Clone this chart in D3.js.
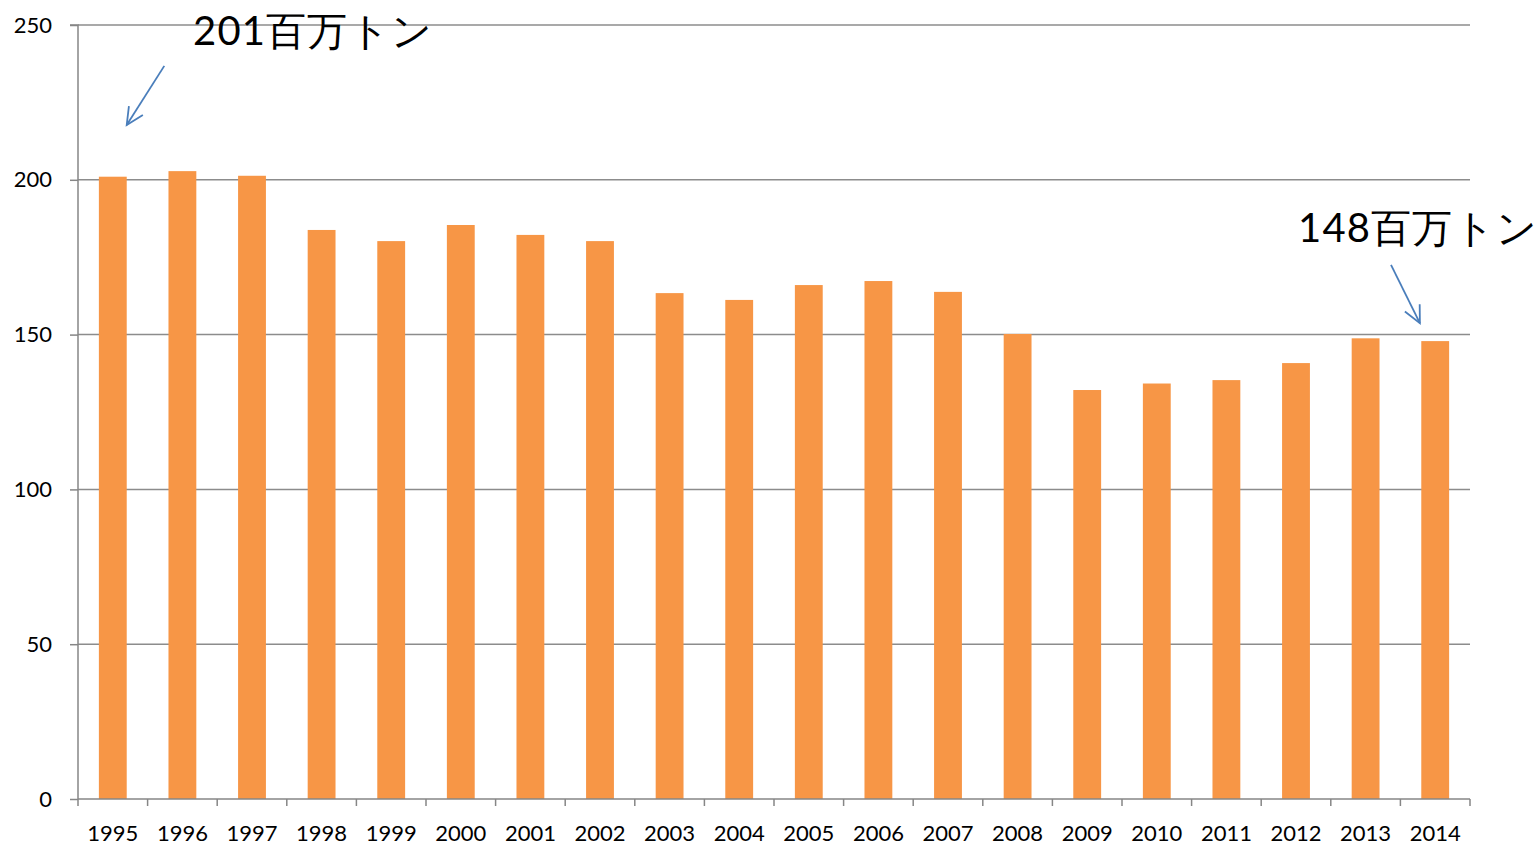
<!DOCTYPE html>
<html><head><meta charset="utf-8">
<script src="https://cdn.jsdelivr.net/npm/d3@7/dist/d3.min.js"></script>
<style>
body{margin:0;background:#fff;}
svg{display:block;}
text{font-family:Lato,"Open Sans","Noto Sans",sans-serif;}
</style></head><body>
<svg id="chart" width="1539" height="845"></svg>
<script>
const years = ["1995","1996","1997","1998","1999","2000","2001","2002","2003","2004","2005","2006","2007","2008","2009","2010","2011","2012","2013","2014"];
const values = [201,202.8,201.3,183.8,180.2,185.4,182.2,180.2,163.4,161.2,166.0,167.3,163.8,150.2,132.1,134.2,135.3,140.8,148.8,147.9];
const yTicks = [0,50,100,150,200,250];
const annotations = [
  {text:"201百万トン", tx:193, ty:45, from:["1995",0.74,236.8], to:["1995",0.2,217.7]},
  {text:"148百万トン", tx:1298, ty:242, from:["2014",-0.635,172.5], to:["2014",-0.22,153.7]}
];

const svg = d3.select("#chart");
const m = {left:78, right:69, top:25, bottom:46};
const W = 1539, H = 845;
const x = d3.scaleBand().domain(years).range([m.left, W - m.right]).paddingInner(0.6).paddingOuter(0.3);
const y = d3.scaleLinear().domain([0,250]).range([H - m.bottom, m.top]);

// gridlines
svg.append("g").selectAll("line").data(yTicks.filter(d=>d>0)).join("line")
  .attr("x1", m.left).attr("x2", W - m.right)
  .attr("y1", d=>y(d)).attr("y2", d=>y(d))
  .attr("stroke", "#8c8c8c").attr("stroke-width", 1.5);

// bars
svg.append("g").selectAll("rect").data(years).join("rect")
  .attr("x", d=>x(d)).attr("width", x.bandwidth())
  .attr("y", (d,i)=>y(values[i])).attr("height", (d,i)=>y(0)-y(values[i]))
  .attr("fill", "#f79646");

// y axis
const yAxis = d3.axisLeft(y).tickValues(yTicks).tickSize(8).tickPadding(18).tickFormat(d3.format("d"));
const gy = svg.append("g").attr("transform", `translate(${m.left},0)`).call(yAxis);
gy.select(".domain").attr("stroke", "#868686").attr("stroke-width", 1.5).attr("d", `M-8,${y(250)}H0V${y(0)}`);
gy.selectAll(".tick line").attr("stroke", "#868686").attr("stroke-width", 1.5);
gy.selectAll(".tick text").attr("font-size", 22).attr("fill", "#000").attr("font-family", "Lato,'Open Sans',sans-serif");

// x axis
const gx = svg.append("g").attr("transform", `translate(0,${y(0)})`);
gx.append("line").attr("x1", m.left).attr("x2", W - m.right).attr("y1",0).attr("y2",0)
  .attr("stroke", "#868686").attr("stroke-width", 1.5);
const step = x.step();
const bounds = d3.range(years.length + 1).map(i => m.left + i * (W - m.right - m.left) / years.length);
gx.selectAll(".tk").data(bounds).join("line").attr("class","tk")
  .attr("x1", d=>d).attr("x2", d=>d).attr("y1", 0).attr("y2", 7)
  .attr("stroke", "#868686").attr("stroke-width", 1.5);
gx.selectAll(".lbl").data(years).join("text").attr("class","lbl")
  .attr("x", d=>x(d) + x.bandwidth()/2).attr("y", 42)
  .attr("text-anchor", "middle").attr("font-size", 22).attr("fill", "#000")
  .text(d=>d);

// annotations
const ax = (a) => x(a[0]) + x.bandwidth()/2 + a[1]*step;
annotations.forEach(an => {
  svg.append("text").attr("x", an.tx).attr("y", an.ty)
    .attr("font-family", "'Noto Sans CJK JP',sans-serif").attr("font-size", 40).attr("fill", "#000")
    .attr("letter-spacing", 1.2)
    .text(an.text);
  const x1 = ax(an.from), y1 = y(an.from[2]), x2 = ax(an.to), y2 = y(an.to[2]);
  svg.append("line").attr("x1", x1).attr("y1", y1).attr("x2", x2).attr("y2", y2)
    .attr("stroke", "#4a7ebb").attr("stroke-width", 1.8);
  const ang = Math.atan2(y2 - y1, x2 - x1);
  const L = 19, spread = 0.45;
  const p = (s) => [x2 - L*Math.cos(ang + s), y2 - L*Math.sin(ang + s)];
  const a1 = p(spread), a2 = p(-spread);
  svg.append("path").attr("d", `M${a1[0]},${a1[1]}L${x2},${y2}L${a2[0]},${a2[1]}`)
    .attr("fill", "none").attr("stroke", "#4a7ebb").attr("stroke-width", 1.8);
});
</script>
</body></html>
